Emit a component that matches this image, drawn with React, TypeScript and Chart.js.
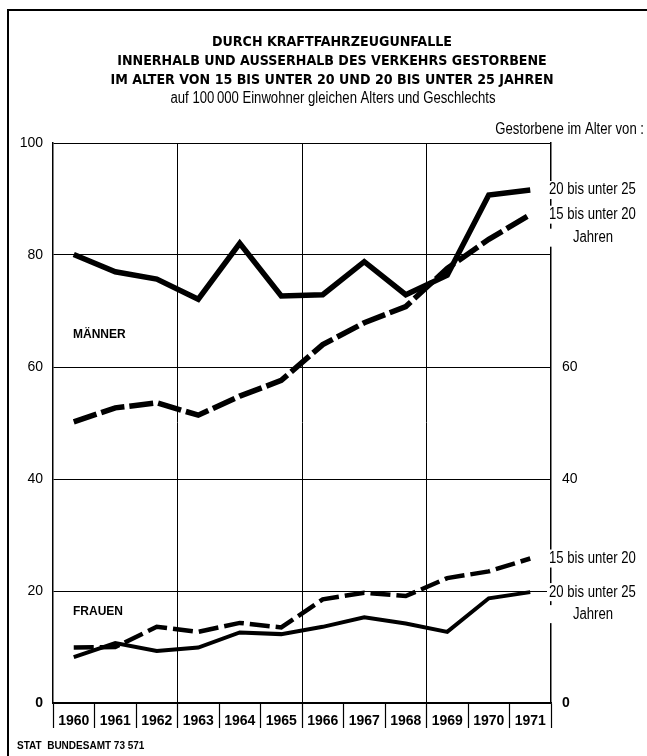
import React, { useEffect, useRef } from "react";
import { Chart, registerables } from "chart.js";

Chart.register(...registerables);

// ---- data ----
const YEARS = ["1960", "1961", "1962", "1963", "1964", "1965", "1966", "1967", "1968", "1969", "1970", "1971"];
const MEN_20_25 = [80.1, 77.0, 75.7, 72.1, 82.1, 72.7, 72.9, 78.8, 72.9, 76.4, 90.7, 91.6];
const MEN_15_20 = [50.2, 52.7, 53.6, 51.4, 54.8, 57.6, 64.0, 67.9, 70.8, 77.6, 82.8, 87.2];
const WOMEN_20_25 = [8.2, 10.7, 9.3, 9.9, 12.6, 12.3, 13.6, 15.3, 14.2, 12.7, 18.7, 19.8];
const WOMEN_15_20 = [9.9, 10.0, 13.6, 12.7, 14.3, 13.5, 18.5, 19.7, 19.1, 22.3, 23.5, 25.8];
const LEFT_TICKS = [0, 20, 40, 60, 80, 100];
const RIGHT_TICKS = [0, 40, 60];

const TITLE_LINES = [
  "DURCH KRAFTFAHRZEUGUNFALLE",
  "INNERHALB UND AUSSERHALB DES VERKEHRS GESTORBENE",
  "IM ALTER VON 15 BIS UNTER 20 UND 20 BIS UNTER 25 JAHREN",
];
const SUBTITLE = "auf 100\u2009000 Einwohner gleichen Alters und Geschlechts";
const RIGHT_HEADER = "Gestorbene im Alter von :";
const LABEL_20_25 = "20 bis unter 25";
const LABEL_15_20 = "15 bis unter 20";
const LABEL_JAHREN = "Jahren";
const GROUP_MEN = "MÄNNER";
const GROUP_WOMEN = "FRAUEN";
const SOURCE = "STAT  BUNDESAMT 73 571";

const SANS = '"Liberation Sans", Arial, sans-serif';
const COND = '"DejaVu Sans Condensed", "DejaVu Sans", sans-serif';
const NARROW_SX = 0.82;

const textPlugin = {
  id: "texts",
  beforeDraw(chart: any) {
    const ctx = chart.ctx;
    ctx.save();
    ctx.fillStyle = "#fff";
    ctx.fillRect(0, 0, chart.width, chart.height);
    ctx.restore();
  },
  afterDraw(chart: any) {
    const ctx = chart.ctx;
    const ys = chart.scales.y;
    const area = chart.chartArea;
    ctx.save();
    ctx.fillStyle = "#000";
    ctx.strokeStyle = "#000";
    ctx.textBaseline = "middle";

    const narrow = (t: string, x: number, y: number, align: string) => {
      ctx.save();
      ctx.font = `16px ${SANS}`;
      ctx.translate(x, y);
      ctx.scale(NARROW_SX, 1);
      ctx.textAlign = align;
      ctx.fillStyle = "#000";
      ctx.fillText(t, 0, 0);
      ctx.restore();
    };
    const narrowWidth = (t: string) => {
      ctx.save();
      ctx.font = `16px ${SANS}`;
      const w = ctx.measureText(t).width * NARROW_SX;
      ctx.restore();
      return w;
    };

    // page frame
    ctx.lineWidth = 2;
    ctx.beginPath();
    ctx.moveTo(8, chart.height);
    ctx.lineTo(8, 10);
    ctx.lineTo(chart.width, 10);
    ctx.stroke();

    // title
    ctx.textAlign = "center";
    ctx.font = `bold 14.1px ${COND}`;
    TITLE_LINES.forEach((t, i) => ctx.fillText(t, 332, 42 + i * 19));
    narrow(SUBTITLE, 333, 99, "center");
    narrow(RIGHT_HEADER, 644, 130, "right");

    // group labels
    ctx.textAlign = "left";
    ctx.font = `bold 12px ${SANS}`;
    ctx.fillText(GROUP_MEN, area.left + 20, 335);
    ctx.fillText(GROUP_WOMEN, area.left + 20, 612);

    // series labels at right
    const labelX = area.right - 2;
    const drawLabel = (t: string, y: number) => {
      const w = narrowWidth(t);
      ctx.fillStyle = "#fff";
      ctx.fillRect(labelX - 2, y - 9, w + 4, 18);
      narrow(t, labelX, y, "left");
    };
    const drawJahren = (y: number) => {
      ctx.fillStyle = "#fff";
      ctx.fillRect(area.right - 2, y - 9, 8, 18);
      narrow(LABEL_JAHREN, area.right + 42, y, "center");
    };
    const last = (a: number[]) => a[a.length - 1];
    const ym1 = ys.getPixelForValue(last(MEN_20_25));
    const ym2 = ys.getPixelForValue(last(MEN_15_20));
    drawLabel(LABEL_20_25, ym1);
    drawLabel(LABEL_15_20, ym2);
    drawJahren(ym2 + 23);
    const yw1 = ys.getPixelForValue(last(WOMEN_15_20));
    const yw2 = ys.getPixelForValue(last(WOMEN_20_25));
    drawLabel(LABEL_15_20, yw1);
    drawLabel(LABEL_20_25, yw2);
    drawJahren(yw2 + 22);

    // source
    ctx.textAlign = "left";
    ctx.fillStyle = "#000";
    ctx.font = `bold 10px ${SANS}`;
    ctx.fillText(SOURCE, 17, 746);
    ctx.restore();
  },
};

export default function App() {
  const ref = useRef<HTMLCanvasElement | null>(null);
  useEffect(() => {
    if (!ref.current) return;
    const tickFont = (ctx: any) => ({
      family: SANS,
      size: 14,
      weight: ctx && ctx.tick && ctx.tick.value === 0 ? "bold" : "normal",
    });
    const chart = new Chart(ref.current, {
      type: "line",
      data: {
        labels: YEARS,
        datasets: [
          { data: MEN_20_25, borderColor: "#000", borderWidth: 5.5, pointRadius: 0, borderJoinStyle: "miter", tension: 0 },
          { data: MEN_15_20, borderColor: "#000", borderWidth: 5.5, pointRadius: 0, borderDash: [24, 5], borderCapStyle: "butt", tension: 0 },
          { data: WOMEN_20_25, borderColor: "#000", borderWidth: 4, pointRadius: 0, borderJoinStyle: "miter", tension: 0 },
          { data: WOMEN_15_20, borderColor: "#000", borderWidth: 4.5, pointRadius: 0, borderDash: [20, 6], borderCapStyle: "butt", tension: 0 },
        ],
      },
      options: {
        responsive: false,
        animation: false,
        layout: { padding: { top: 143, left: 0, right: 0, bottom: 0 } },
        plugins: { legend: { display: false }, tooltip: { enabled: false }, title: { display: false } },
        scales: {
          x: {
            type: "category",
            offset: true,
            grid: {
              offset: true,
              color: (c: any) => (typeof c.index === "number" && c.index % 3 === 0 && c.index > 0 ? "#000" : "rgba(0,0,0,0)"),
              lineWidth: 1,
              tickColor: "#000",
              tickWidth: 1.2,
              tickLength: 25,
              drawTicks: true,
            },
            border: { display: true, color: "#000", width: 1.5 },
            ticks: {
              padding: -15,
              color: "#000",
              maxRotation: 0,
              autoSkip: false,
              font: { family: SANS, size: 14, weight: "bold" },
            },
            afterFit: (s: any) => { s.height = 53; },
          },
          y: {
            position: "left",
            min: 0,
            max: 100,
            afterBuildTicks: (s: any) => { s.ticks = LEFT_TICKS.map((v) => ({ value: v })); },
            ticks: { padding: 10, color: "#000", font: tickFont },
            grid: { color: "#000", lineWidth: 1, drawTicks: false },
            border: { display: true, color: "#000", width: 1.5 },
            afterFit: (s: any) => { s.width = 53; },
          },
          y2: {
            position: "right",
            min: 0,
            max: 100,
            afterBuildTicks: (s: any) => { s.ticks = RIGHT_TICKS.map((v) => ({ value: v })); },
            ticks: { padding: 11, color: "#000", font: tickFont },
            grid: { display: false, drawTicks: false },
            border: { display: true, color: "#000", width: 1.5 },
            afterFit: (s: any) => { s.width = 96; },
          },
        },
      },
      plugins: [textPlugin],
    } as any);
    return () => chart.destroy();
  }, []);
  return (
    <div style={{ position: "absolute", left: 0, top: 0, width: 647, height: 756 }}>
      <canvas ref={ref} width={647} height={756} style={{ width: 647, height: 756, display: "block" }} />
    </div>
  );
}
